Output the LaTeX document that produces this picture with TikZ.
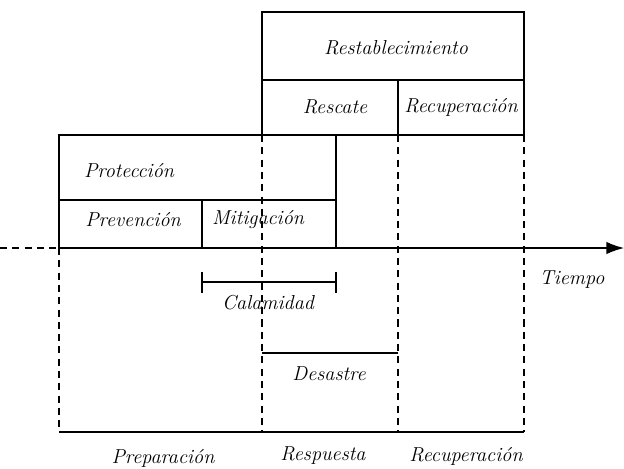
\documentclass[tikz,border=0pt]{standalone}
\usetikzlibrary{arrows.meta}
\tikzset{
    phase/.style={font=\itshape\fontsize{11.5}{13}\selectfont, inner sep=1pt},
    broken/.style={dash pattern=on 4pt off 3pt},
}
\begin{document}
\begin{tikzpicture}[x=0.02cm, y=-0.02cm, line width=0.7pt]
    \useasboundingbox (0, 0) rectangle (624, 468);
    % restablecimiento boxes
    \draw (262, 135) -- (262, 12) -- (524, 12) -- (524, 135);
    \draw (262, 80) -- (524, 80);
    \draw (398, 80) -- (398, 135);
    % proteccion boxes
    \draw (59, 248) -- (59, 135) -- (524, 135);
    \draw (59, 200) -- (336, 200);
    \draw (202, 200) -- (202, 248);
    \draw (336, 135) -- (336, 248);
    % time axis
    \draw[broken] (0, 248) -- (59, 248);
    \draw[-{Latex[length=10pt, width=7pt]}] (59, 248) -- (624, 248);
    % phase limits
    \draw[broken] (59, 248) -- (59, 432);
    \draw[broken] (262, 135) -- (262, 432);
    \draw[broken] (398, 135) -- (398, 432);
    \draw[broken] (524, 135) -- (524, 432);
    \draw (59, 432) -- (524, 432);
    % desastre
    \draw (262, 353) -- (398, 353);
    % calamidad
    \draw (202, 282) -- (336, 282);
    \draw (202, 272) -- (202, 293);
    \draw (336, 272) -- (336, 293);
    % labels
    \node[phase] (restab) at (396, 48) {Restablecimiento};
    \node[phase] (rescate) at (335, 107) {Rescate};
    \node[phase] (recup) at (461, 107) {Recuperación};
    \node[phase] (protec) at (129, 171) {Protección};
    \node[phase] (preven) at (133, 220) {Prevención};
    \node[phase] (mitig) at (258, 220) {Mitigación};
    \node[phase] (tiempo) at (572, 280) {Tiempo};
    \node[phase] (calam) at (268, 303) {Calamidad};
    \node[phase] (desas) at (329, 374) {Desastre};
    \node[phase] (prep) at (163, 458) {Preparación};
    \node[phase] (resp) at (323, 456) {Respuesta};
    \node[phase] (recfase) at (466, 456) {Recuperación};
\end{tikzpicture}
\end{document}
